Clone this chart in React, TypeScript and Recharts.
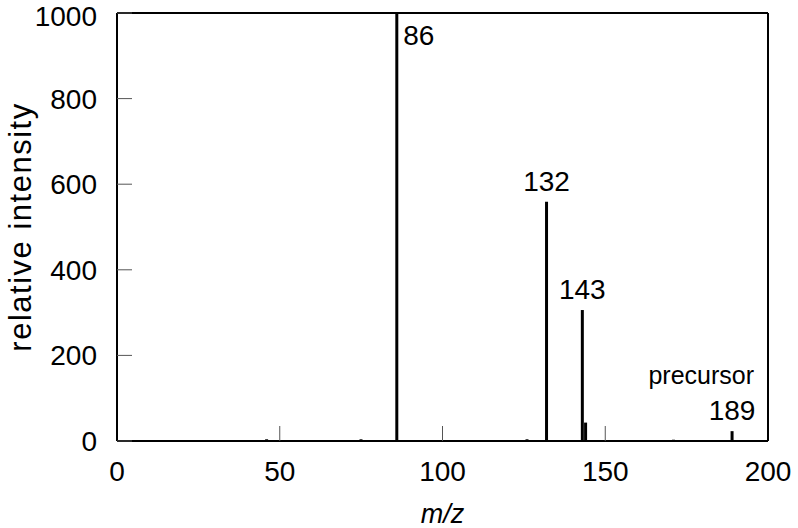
import { ComposedChart, Bar, XAxis, YAxis, LabelList } from 'recharts';

// peak list
const mzValues = [46, 75, 86, 126, 132, 143, 144, 171, 189];
const intensities = [4, 4, 1000, 4, 559, 306, 43, 3, 23];
const peakLabels = ['', '', '86', '', '132', '143', '', '', '189'];
const peakNotes = ['', '', '', '', '', '', '', '', 'precursor'];

const xTicks = [0, 50, 100, 150, 200];
const yTicks = [0, 200, 400, 600, 800, 1000];

const FONT = '"Liberation Sans", Arial, Helvetica, sans-serif';
const TICK_STYLE = { fontSize: 28, fill: '#000', fontFamily: FONT };

const data = mzValues.map((mz, i) => ({
    mz,
    intensity: intensities[i],
    label: peakLabels[i],
    note: peakNotes[i],
}));

const PeakLabel = (props: any) => {
    const { x, y, width, index } = props;
    const entry = data[index];
    if (!entry || !entry.label) return null;
    const cx = x + width / 2;

    // tallest peak touches the frame, so its label goes beside it
    if (y < 40) {
        return (
            <text x={x + width + 5} y={y + 32} fontSize={28} fontFamily={FONT} fill="#000">
                {entry.label}
            </text>
        );
    }

    return (
        <g>
            {entry.note && (
                <text x={cx + 22} y={y - 47} textAnchor="end" fontSize={25} fontFamily={FONT} fill="#000">
                    {entry.note}
                </text>
            )}
            <text x={cx} y={y - 11} textAnchor="middle" fontSize={28} fontFamily={FONT} fill="#000">
                {entry.label}
            </text>
        </g>
    );
};

const YLabel = ({ viewBox }: any) => {
    const cx = viewBox.x + 20;
    const cy = viewBox.y + viewBox.height / 2;
    return (
        <text
            x={cx}
            y={cy}
            transform={`rotate(-90, ${cx}, ${cy})`}
            textAnchor="middle"
            dominantBaseline="central"
            fontSize={31}
            letterSpacing={1.5}
            fontFamily={FONT}
            fill="#000"
        >
            relative intensity
        </text>
    );
};

const XLabel = ({ viewBox }: any) => (
    <text
        x={viewBox.x + viewBox.width / 2}
        y={viewBox.y + 82}
        textAnchor="middle"
        fontSize={27}
        fontStyle="italic"
        fontFamily={FONT}
        fill="#000"
    >
        m/z
    </text>
);

const frame = { stroke: '#000', strokeWidth: 2 };
const tickLine = { stroke: '#555', strokeWidth: 1 };

export default function App() {
    return (
        <div style={{ position: 'absolute', left: 0, top: 0, background: '#fff' }}>
            <ComposedChart
                width={798}
                height={528}
                data={data}
                margin={{ top: 13, right: 30, left: 0, bottom: 0 }}
            >
                <XAxis
                    xAxisId="main"
                    dataKey="mz"
                    type="number"
                    domain={[0, 200]}
                    ticks={xTicks}
                    height={87}
                    axisLine={frame}
                    tickLine={tickLine}
                    tickSize={-15}
                    tickMargin={35}
                    tick={TICK_STYLE}
                    label={<XLabel />}
                />
                <XAxis
                    xAxisId="top"
                    orientation="top"
                    type="number"
                    domain={[0, 200]}
                    ticks={xTicks}
                    mirror
                    axisLine={frame}
                    tickLine={tickLine}
                    tickSize={15}
                    tick={false}
                />
                <YAxis
                    yAxisId="main"
                    type="number"
                    domain={[0, 1000]}
                    ticks={yTicks}
                    width={117}
                    axisLine={frame}
                    tickLine={tickLine}
                    tickSize={-15}
                    tickMargin={35}
                    tick={TICK_STYLE}
                    label={<YLabel />}
                />
                <YAxis
                    yAxisId="right"
                    orientation="right"
                    type="number"
                    domain={[0, 1000]}
                    ticks={yTicks}
                    mirror
                    axisLine={frame}
                    tickLine={tickLine}
                    tickSize={15}
                    tick={false}
                />
                <Bar
                    xAxisId="main"
                    yAxisId="main"
                    dataKey="intensity"
                    fill="#000"
                    barSize={3}
                    isAnimationActive={false}
                >
                    <LabelList dataKey="label" content={<PeakLabel />} />
                </Bar>
            </ComposedChart>
        </div>
    );
}
